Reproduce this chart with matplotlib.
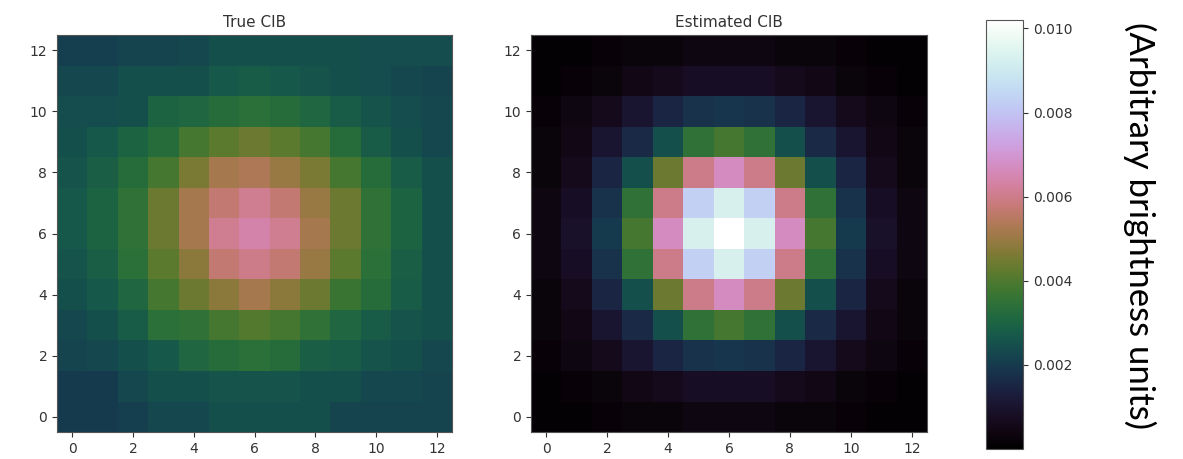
import matplotlib.pyplot as plt
import numpy as np

# pixel values, rows listed from y=0 (bottom) to y=12 (top)
true_cib = [
    [0.0020, 0.0020, 0.0021, 0.0023, 0.0023, 0.0025, 0.0025, 0.0025, 0.0025, 0.0022, 0.0022, 0.0022, 0.0022],
    [0.0020, 0.0020, 0.0023, 0.0025, 0.0025, 0.0026, 0.0026, 0.0026, 0.0025, 0.0025, 0.0023, 0.0023, 0.0022],
    [0.0022, 0.0023, 0.0025, 0.0027, 0.0031, 0.0033, 0.0034, 0.0033, 0.0029, 0.0028, 0.0026, 0.0025, 0.0023],
    [0.0023, 0.0025, 0.0028, 0.0034, 0.0035, 0.0039, 0.0041, 0.0039, 0.0035, 0.0031, 0.0028, 0.0026, 0.0025],
    [0.0025, 0.0027, 0.0031, 0.0039, 0.0044, 0.0048, 0.0052, 0.0048, 0.0044, 0.0037, 0.0033, 0.0028, 0.0025],
    [0.0026, 0.0029, 0.0034, 0.0042, 0.0048, 0.0057, 0.0060, 0.0057, 0.0050, 0.0042, 0.0034, 0.0029, 0.0025],
    [0.0027, 0.0030, 0.0035, 0.0044, 0.0052, 0.0061, 0.0064, 0.0061, 0.0052, 0.0044, 0.0035, 0.0030, 0.0025],
    [0.0027, 0.0030, 0.0035, 0.0044, 0.0052, 0.0057, 0.0061, 0.0057, 0.0050, 0.0044, 0.0035, 0.0030, 0.0025],
    [0.0026, 0.0029, 0.0033, 0.0039, 0.0046, 0.0052, 0.0053, 0.0050, 0.0046, 0.0039, 0.0033, 0.0028, 0.0025],
    [0.0025, 0.0027, 0.0030, 0.0033, 0.0039, 0.0042, 0.0044, 0.0042, 0.0039, 0.0033, 0.0028, 0.0025, 0.0023],
    [0.0024, 0.0024, 0.0025, 0.0030, 0.0031, 0.0033, 0.0034, 0.0033, 0.0031, 0.0028, 0.0026, 0.0024, 0.0023],
    [0.0023, 0.0023, 0.0025, 0.0025, 0.0025, 0.0027, 0.0028, 0.0027, 0.0026, 0.0025, 0.0024, 0.0023, 0.0022],
    [0.0021, 0.0021, 0.0022, 0.0022, 0.0023, 0.0025, 0.0025, 0.0025, 0.0025, 0.0025, 0.0024, 0.0024, 0.0024],
]

estimated_cib = [
    [0.0001, 0.0001, 0.0002, 0.0003, 0.0003, 0.0004, 0.0004, 0.0004, 0.0003, 0.0003, 0.0002, 0.0001, 0.0001],
    [0.0001, 0.0002, 0.0003, 0.0005, 0.0006, 0.0008, 0.0008, 0.0008, 0.0006, 0.0005, 0.0003, 0.0002, 0.0001],
    [0.0002, 0.0004, 0.0006, 0.0010, 0.0015, 0.0018, 0.0019, 0.0018, 0.0015, 0.0010, 0.0006, 0.0004, 0.0002],
    [0.0003, 0.0005, 0.0010, 0.0016, 0.0025, 0.0035, 0.0039, 0.0035, 0.0025, 0.0016, 0.0010, 0.0005, 0.0003],
    [0.0003, 0.0006, 0.0015, 0.0025, 0.0044, 0.0060, 0.0067, 0.0060, 0.0044, 0.0025, 0.0015, 0.0006, 0.0003],
    [0.0004, 0.0008, 0.0018, 0.0035, 0.0060, 0.0083, 0.0093, 0.0083, 0.0060, 0.0035, 0.0018, 0.0008, 0.0004],
    [0.0004, 0.0009, 0.0020, 0.0039, 0.0067, 0.0093, 0.0102, 0.0093, 0.0067, 0.0039, 0.0020, 0.0009, 0.0004],
    [0.0004, 0.0008, 0.0018, 0.0035, 0.0060, 0.0083, 0.0093, 0.0083, 0.0060, 0.0035, 0.0018, 0.0008, 0.0004],
    [0.0003, 0.0006, 0.0015, 0.0025, 0.0044, 0.0060, 0.0067, 0.0060, 0.0044, 0.0025, 0.0015, 0.0006, 0.0003],
    [0.0003, 0.0005, 0.0010, 0.0016, 0.0025, 0.0035, 0.0039, 0.0035, 0.0025, 0.0016, 0.0010, 0.0005, 0.0003],
    [0.0002, 0.0004, 0.0006, 0.0010, 0.0015, 0.0018, 0.0019, 0.0018, 0.0015, 0.0010, 0.0006, 0.0004, 0.0002],
    [0.0001, 0.0002, 0.0003, 0.0005, 0.0006, 0.0008, 0.0008, 0.0008, 0.0006, 0.0005, 0.0003, 0.0002, 0.0001],
    [0.0001, 0.0001, 0.0002, 0.0003, 0.0003, 0.0004, 0.0004, 0.0004, 0.0003, 0.0003, 0.0002, 0.0001, 0.0001],
]

titles = ['True CIB', 'Estimated CIB']
cbar_ticks = [0.002, 0.004, 0.006, 0.008, 0.010]
vmin, vmax = 0.0, 0.0102

W, H = 1183, 459
fig = plt.figure(figsize=(W / 100, H / 100), dpi=100)

ax1 = fig.add_axes([57 / W, 1 - 432 / H, 395 / W, 397 / H])
ax2 = fig.add_axes([531 / W, 1 - 432 / H, 396 / W, 397 / H])
cax = fig.add_axes([986 / W, 1 - 449 / H, 37 / W, 429 / H])

for ax, data, title in zip([ax1, ax2], [true_cib, estimated_cib], titles):
    im = ax.imshow(np.array(data), origin='lower', cmap='cubehelix',
                   vmin=vmin, vmax=vmax, interpolation='nearest',
                   aspect='auto')
    ax.set_title(title, fontsize=11, color='#333333', pad=6)
    ax.set_xticks(range(0, 13, 2))
    ax.set_yticks(range(0, 13, 2))
    ax.tick_params(labelsize=10, colors='#333333')
    for s in ax.spines.values():
        s.set_color('#555555')

cb = fig.colorbar(im, cax=cax, ticks=cbar_ticks)
cb.ax.set_yticklabels(['%.3f' % t for t in cbar_ticks])
cb.ax.tick_params(labelsize=10, colors='#333333')
cb.outline.set_edgecolor('#555555')

fig.text(1140 / W, 0.508, '(Arbitrary brightness units)', rotation=270,
         ha='center', va='center', fontsize=25, family='Lato')

fig.savefig('out.png', dpi=100)
